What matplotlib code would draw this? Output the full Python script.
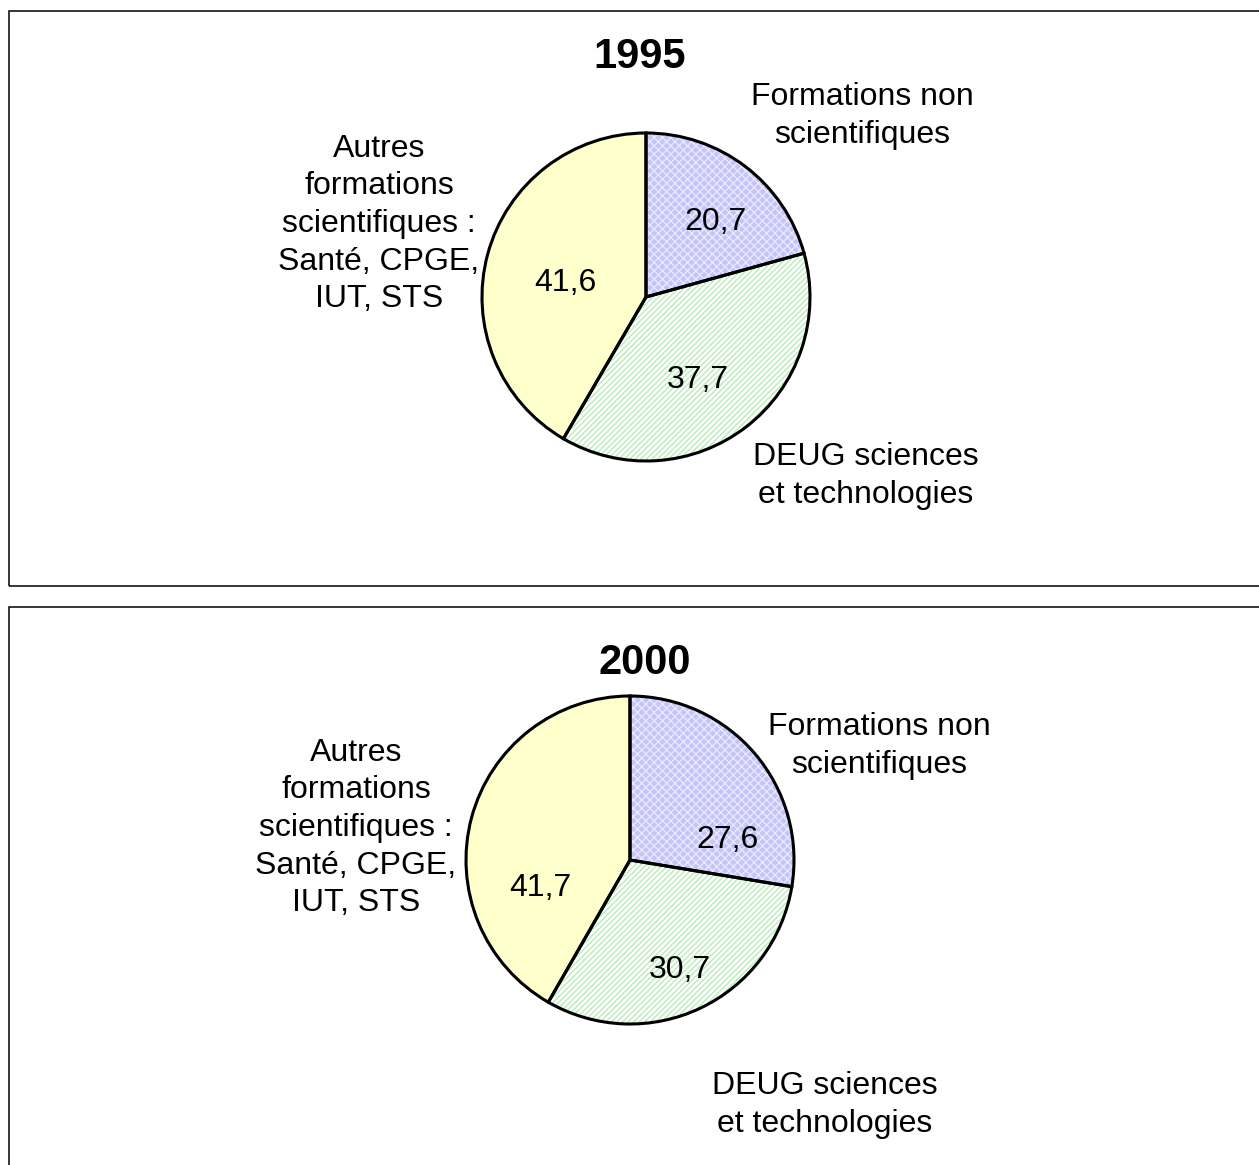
import matplotlib
matplotlib.use("Agg")
import matplotlib.pyplot as plt
from matplotlib.patches import Rectangle

plt.rcParams['font.family'] = ['Liberation Sans', 'DejaVu Sans']
plt.rcParams['hatch.linewidth'] = 1.0

# data
years = ["1995", "2000"]
categories = ["Formations non\nscientifiques",
              "DEUG sciences\net technologies",
              "Autres\nformations\nscientifiques :\nSanté, CPGE,\nIUT, STS"]
values_1995 = [20.7, 37.7, 41.6]
values_2000 = [27.6, 30.7, 41.7]

face = ['#c4c4f8', '#ffffff', '#ffffcc']
hatches = ['xxxx', '//////', None]
hatch_col = ['#e8e8ff', '#b8ecb8', '#ffffcc']

W, H = 1259, 1165
fig = plt.figure(figsize=(W / 100, H / 100), dpi=100)
ax = fig.add_axes([0, 0, 1, 1])
ax.set_xlim(0, W)
ax.set_ylim(0, H)
ax.set_aspect('equal')
ax.axis('off')

# frames (pixel coords, y from top)
ax.add_patch(Rectangle((9, H - 586), 1300, 575, fill=False, ec='black', lw=1.1, clip_on=False))
ax.add_patch(Rectangle((9, -50), 1300, H - 607 + 50, fill=False, ec='black', lw=1.1, clip_on=False))

layouts = [
    dict(center=(646, H - 297), title=(640, H - 57),
         lab=[(862, H - 116), (866, H - 476), (379, H - 224)],
         val=[(716, H - 222), (698, H - 380), (565, H - 283)]),
    dict(center=(630, H - 860), title=(645, H - 663),
         lab=[(879, H - 746), (825, H - 1105), (356, H - 828)],
         val=[(728, H - 840), (680, H - 970), (540, H - 888)]),
]

for year, vals, lay in zip(years, [values_1995, values_2000], layouts):
    wedges, _ = ax.pie(vals, center=lay['center'], radius=164, startangle=90,
                       counterclock=False, colors=face,
                       wedgeprops=dict(lw=0), frame=True)
    for w, h, hc in zip(wedges, hatches, hatch_col):
        if h:
            w.set_hatch(h)
            w.set_edgecolor(hc)
    ax.pie(vals, center=lay['center'], radius=164, startangle=90,
           counterclock=False,
           wedgeprops=dict(fill=False, ec='black', lw=2.2), frame=True)
    ax.text(lay['title'][0], lay['title'][1], year, ha='center', va='center',
            fontsize=30, fontweight='bold')
    for cat, (x, y) in zip(categories, lay['lab']):
        ax.text(x, y, cat, ha='center', va='center', fontsize=23, linespacing=1.33)
    for v, (x, y) in zip(vals, lay['val']):
        ax.text(x, y, f"{v:.1f}".replace('.', ','), ha='center', va='center', fontsize=23)

ax.set_xlim(0, W)
ax.set_ylim(0, H)
ax.axis('off')

fig.savefig("out.png", dpi=100)
